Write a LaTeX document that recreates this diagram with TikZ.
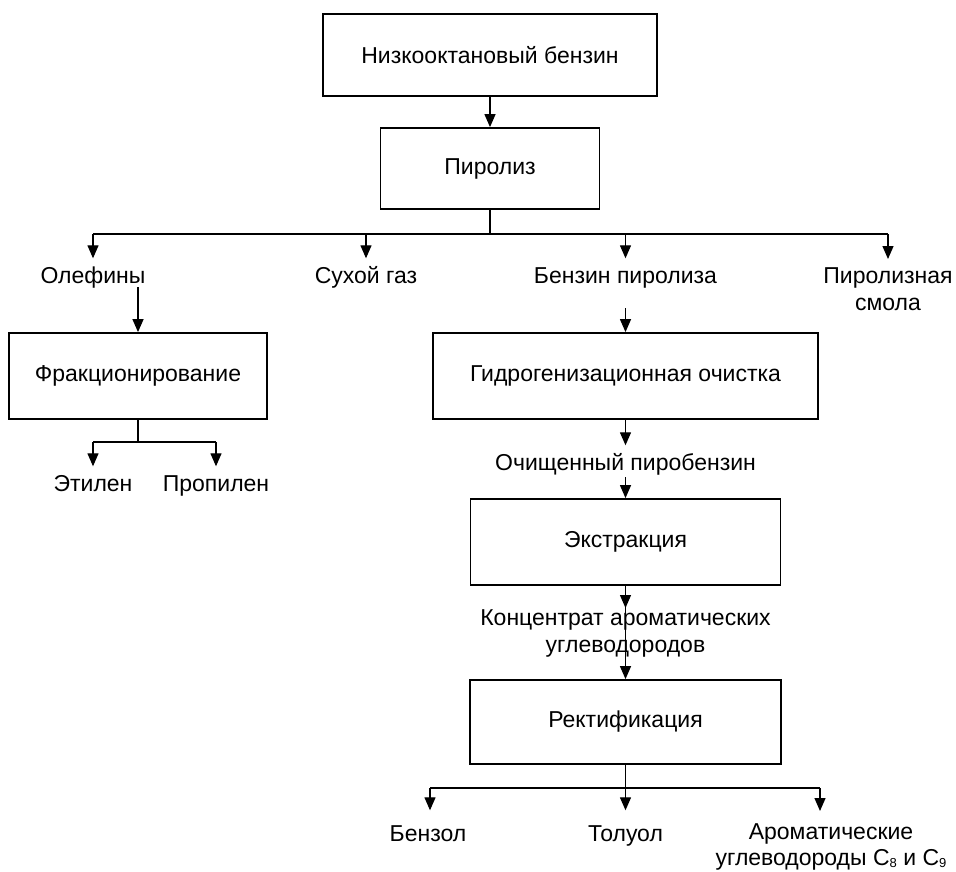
\documentclass[tikz,border=0pt]{standalone}
\usepackage{fontspec}
\setmainfont{Liberation Sans}
\usetikzlibrary{arrows.meta}
\newcommand\diafont{\fontsize{23pt}{27pt}\selectfont}
\newcommand\lowsub[1]{\raisebox{-2.5pt}{\fontsize{13pt}{13pt}\selectfont #1}}
\begin{document}
\begin{tikzpicture}[x=1pt,y=-1pt,
  procbox/.style={draw=black, line width=1.8pt, inner sep=0pt, font=\diafont},
  lab/.style={font=\diafont, inner xsep=1pt, inner ysep=8pt, text height=16.5pt, text depth=5pt, anchor=base},
  mlab/.style={font=\diafont, align=center, inner xsep=1pt, anchor=north},
  con/.style={line width=1.3pt},
  arr/.style={con, -{Triangle[length=13pt,width=11pt]}}]
\useasboundingbox (0,0) rectangle (956,872);

% boxes
\node[procbox, minimum width=334pt, minimum height=82pt] (n1) at (490,55) {Низкооктановый бензин};
\node[procbox, minimum width=219pt, minimum height=81pt] (n2) at (490,168.5) {Пиролиз};
\node[procbox, minimum width=258pt, minimum height=86pt] (fr) at (138,376) {Фракционирование};
\node[procbox, minimum width=385pt, minimum height=86pt] (hg) at (625.5,376) {Гидрогенизационная очистка};
\node[procbox, minimum width=310pt, minimum height=86pt] (ex) at (625.5,542) {Экстракция};
\node[procbox, minimum width=311pt, minimum height=84pt] (rc) at (625.5,722) {Ректификация};

% labels
\node[lab] (ol) at (93,283) {Олефины};
\node[lab] (dg) at (366,283) {Сухой газ};
\node[lab] (bp) at (625.5,283) {Бензин пиролиза};
\node[mlab, inner ysep=8pt] (ps) at (888,259) {Пиролизная\\смола};
\node[lab] (et) at (93,491) {Этилен};
\node[lab] (pr) at (216,491) {Пропилен};
\node[lab] (och) at (625.5,470) {Очищенный пиробензин};
\node[mlab, inner ysep=1pt] (conc) at (625.5,608) {Концентрат ароматических\\углеводородов};
\node[lab, inner ysep=14pt] (bz) at (428,841) {Бензол};
\node[lab, inner ysep=14pt] (tl) at (625.5,841) {Толуол};
\node[mlab, inner ysep=12pt, font=\fontsize{23pt}{26pt}\selectfont] (ar) at (831,811) {Ароматические\\углеводороды C\lowsub{8} и C\lowsub{9}};

% coordinates
\coordinate (b0) at (490,234);
\coordinate (bL) at (93,234);
\coordinate (bR) at (888,234);
\coordinate (olA) at ([yshift=9pt]ol.south);
\coordinate (f0) at (138,442);
\coordinate (fL) at (93,442);
\coordinate (fR) at (216,442);
\coordinate (bpA) at ([yshift=-12pt]bp.south);
\coordinate (ochA) at ([yshift=6pt]och.south);
\coordinate (r0) at (625.5,788);
\coordinate (rL) at (430,788);
\coordinate (rR) at (820,788);

% connectors
\draw[arr] (n1.south) -- (n2.north);
\draw[con] (n2.south) -- (b0);
\draw[con] (bL) -- (bR);
\draw[arr] (bL) -- (ol.north);
\draw[arr] (bL -| dg.north) -- (dg.north);
\draw[arr] (bL -| bp.north) -- (bp.north);
\draw[arr] (bR) -- (ps.north);

\draw[arr] (olA -| fr.north) -- (fr.north);
\draw[con] (fr.south) -- (f0);
\draw[con] (fL) -- (fR);
\draw[arr] (fL) -- (et.north);
\draw[arr] (fR) -- (pr.north);

\draw[arr] (bpA) -- (hg.north);
\draw[arr] (hg.south) -- (och.north);
\draw[arr] (ochA) -- (ex.north);
\draw[arr] (ex.south) -- (conc.north);
\draw[arr] (ex.south) -- (rc.north);

\draw[con] (rc.south) -- (r0);
\draw[con] (rL) -- (rR);
\draw[arr] (rL) -- (rL |- bz.north);
\draw[arr] (r0) -- (tl.north);
\draw[arr] (rR) -- (rR |- ar.north);
\end{tikzpicture}
\end{document}
